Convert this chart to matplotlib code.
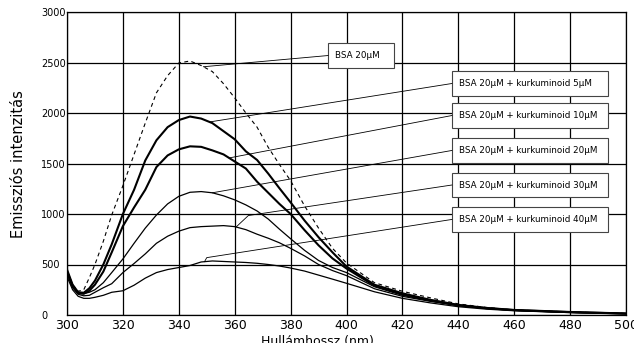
import numpy as np
import matplotlib
matplotlib.use('Agg')
import matplotlib.pyplot as plt
from matplotlib.patches import Rectangle

# hullámhossz (nm) és az emissziós intenzitások
wavelength = [300, 302, 304, 306, 308, 310, 313, 316, 320, 324, 328, 332, 336, 340, 344, 348,
              352, 356, 360, 364, 368, 372, 376, 380, 385, 390, 395, 400, 410, 420, 430, 440,
              450, 460, 480, 500]

bsa = [430, 300, 235, 250, 370, 500, 730, 990, 1280, 1590, 1900, 2200, 2370, 2495, 2515, 2470,
       2410, 2290, 2150, 2000, 1860, 1660, 1490, 1330, 1080, 860, 660, 515, 320, 235, 170, 110,
       75, 50, 30, 15]
kurk_5 = [450, 300, 225, 220, 265, 340, 500, 700, 1000, 1240, 1530, 1730, 1860, 1930, 1965, 1945,
          1900, 1820, 1740, 1620, 1535, 1400, 1255, 1115, 935, 770, 620, 480, 300, 215, 150, 100,
          70, 50, 30, 15]
kurk_10 = [430, 290, 215, 210, 240, 300, 430, 620, 880, 1065, 1240, 1465, 1580, 1640, 1670, 1665,
           1630, 1590, 1520, 1450, 1320, 1210, 1100, 1000, 840, 690, 560, 460, 290, 205, 145, 97,
           68, 48, 28, 14]
kurk_20 = [420, 280, 220, 212, 225, 250, 320, 420, 555, 710, 860, 990, 1100, 1175, 1215, 1222,
           1210, 1180, 1140, 1090, 1030, 950, 850, 755, 640, 540, 470, 420, 280, 195, 140, 95,
           66, 47, 27, 14]
kurk_30 = [410, 270, 205, 190, 195, 225, 270, 310, 420, 510, 605, 710, 780, 830, 865, 875,
           880, 885, 875, 845, 800, 760, 715, 660, 585, 500, 440, 390, 260, 185, 135, 92,
           64, 46, 26, 13]
kurk_40 = [380, 250, 185, 165, 165, 175, 195, 225, 240, 295, 365, 420, 450, 470, 490, 525,
           535, 530, 525, 520, 512, 500, 485, 465, 435, 395, 355, 314, 230, 165, 120, 82,
           58, 42, 24, 12]

labels = ["BSA 20µM",
          "BSA 20µM + kurkuminoid 5µM",
          "BSA 20µM + kurkuminoid 10µM",
          "BSA 20µM + kurkuminoid 20µM",
          "BSA 20µM + kurkuminoid 30µM",
          "BSA 20µM + kurkuminoid 40µM"]
series = [bsa, kurk_5, kurk_10, kurk_20, kurk_30, kurk_40]

# vonalstílusok
styles = [dict(lw=0.8, ls=(0, (3.5, 3))),
          dict(lw=1.5, ls='-'),
          dict(lw=1.5, ls='-'),
          dict(lw=0.9, ls='-'),
          dict(lw=0.9, ls='-'),
          dict(lw=0.9, ls='-')]

# címkedobozok helye (bal szél, közép y, szélesség) és a mutatóvonal
box_x = [393.4, 437.7, 437.7, 437.7, 437.7, 437.7]
box_y = [2569, 2292, 1975, 1629, 1287, 946]
box_w = [23.6, 55.9, 55.9, 55.9, 55.9, 55.9]
box_h = 247
leader_wl = [348.8, 351, 358, 352, 360.5, 349.2]
leader_kink = [None, None, None, None, (364.9, 985), (350, 568)]

fig = plt.figure(figsize=(6.34, 3.43), dpi=100)
ax = fig.add_axes([67/634, 28/343, 559/634, 303/343])

for y, st in zip(series, styles):
    ax.plot(wavelength, y, color='black', solid_joinstyle='round', zorder=3, **st)

ax.set_xlim(300, 500)
ax.set_ylim(0, 3000)
ax.set_xticks(np.arange(300, 501, 20))
ax.set_yticks(np.arange(0, 3001, 500))
ax.grid(True, color='black', lw=0.9, zorder=1)
ax.set_axisbelow(True)
for s in ax.spines.values():
    s.set_linewidth(0.9)

ax.tick_params(axis='x', length=0, pad=3, labelsize=9)
ax.tick_params(axis='y', length=0, pad=18.7, labelsize=7)
for t in ax.get_yticklabels():
    t.set_horizontalalignment('left')

# címkék, dobozok, mutatóvonalak
for i, lab in enumerate(labels):
    x0, yc, w = box_x[i], box_y[i], box_w[i]
    ax.add_patch(Rectangle((x0, yc - box_h/2), w, box_h, facecolor='white',
                           edgecolor='#444444', lw=0.8, zorder=4))
    ax.text(x0 + 2.5, yc, lab, fontsize=6.3, va='center', ha='left', zorder=5)
    tx = leader_wl[i]
    ty = np.interp(tx, wavelength, series[i])
    xs = [x0]
    ys = [yc]
    if leader_kink[i] is not None:
        xs.append(leader_kink[i][0])
        ys.append(leader_kink[i][1])
    xs.append(tx)
    ys.append(ty)
    ax.plot(xs, ys, color='black', lw=0.6, zorder=4)

fig.text(19/634, (343-164)/343, 'Emissziós intenzitás', rotation=90,
         ha='center', va='center', fontsize=10.5)
fig.text(0.5, (343-335)/343, 'Hullámhossz (nm)', ha='center', va='top', fontsize=9)

fig.savefig('out.png', dpi=100)
